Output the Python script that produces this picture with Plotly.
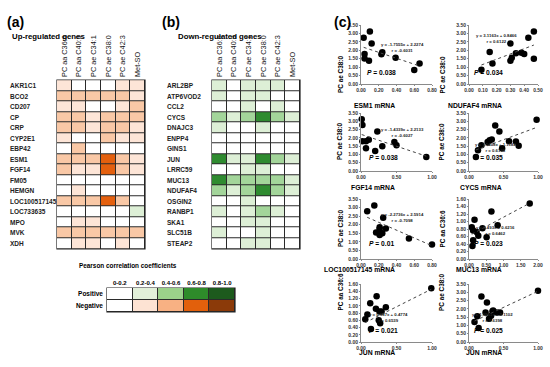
import plotly.graph_objects as go

W, H = 550, 367
FONT = "Liberation Sans, Arial, sans-serif"

# ---------------- data ----------------
lipids = ["PC aa C36:6", "PC aa C40:3", "PC ae C34:1", "PC ae C38:0", "PC ae C42:3", "Met-SO"]

up_genes = ["AKR1C1", "BCO2", "CD207", "CP", "CRP", "CYP2E1", "EBP42", "ESM1", "FGF14",
            "FM05", "HEMGN", "LOC100517145", "LOC733635", "MPO", "MVK", "XDH"]
up_r = [
    [-0.3, 0.0, 0.0, 0.0, -0.3, -0.3],
    [-0.5, -0.5, -0.5, -0.5, -0.5, -0.3],
    [-0.3, -0.3, 0.0, 0.0, -0.3, -0.5],
    [-0.5, -0.5, -0.3, -0.5, -0.5, -0.5],
    [-0.5, -0.5, -0.3, -0.5, -0.5, -0.3],
    [-0.3, 0.0, 0.0, -0.5, -0.3, -0.3],
    [0.0, -0.5, 0.0, 0.0, 0.0, 0.0],
    [-0.5, -0.5, -0.5, -0.7, -0.5, -0.3],
    [-0.5, -0.3, -0.3, -0.7, -0.5, -0.3],
    [0.0, 0.0, 0.0, 0.0, 0.0, 0.0],
    [0.0, -0.3, 0.0, 0.0, 0.0, 0.0],
    [-0.5, -0.5, -0.5, -0.7, -0.5, 0.0],
    [0.0, 0.0, 0.0, 0.0, 0.0, 0.3],
    [0.0, -0.3, -0.3, 0.0, 0.0, 0.0],
    [-0.5, -0.5, -0.5, -0.5, -0.5, -0.5],
    [0.0, -0.3, -0.3, 0.0, -0.3, 0.0],
]

down_genes = ["ARL2BP", "ATP6VOD2", "CCL2", "CYCS", "DNAJC3", "ENPP4", "GINS1", "JUN",
              "LRRC59", "MUC13", "NDUFAF4", "OSGIN2", "RANBP1", "SKA1", "SLC51B", "STEAP2"]
down_r = [
    [0.3, 0.0, 0.3, 0.3, 0.3, 0.0],
    [0.3, 0.0, 0.3, 0.3, 0.0, 0.0],
    [0.0, 0.0, 0.3, 0.0, 0.3, 0.0],
    [0.5, 0.3, 0.5, 0.7, 0.5, 0.3],
    [0.3, 0.0, 0.0, 0.3, 0.0, 0.0],
    [0.0, 0.0, 0.0, 0.0, 0.0, 0.0],
    [0.0, 0.0, 0.0, 0.0, 0.0, 0.0],
    [0.7, 0.3, 0.3, 0.7, 0.5, 0.3],
    [0.0, 0.0, 0.3, 0.3, 0.0, 0.0],
    [0.7, 0.5, 0.5, 0.5, 0.5, 0.3],
    [0.5, 0.3, 0.5, 0.7, 0.5, 0.3],
    [0.0, 0.0, 0.3, 0.0, 0.0, 0.0],
    [0.3, 0.0, 0.3, 0.5, 0.3, 0.0],
    [0.0, 0.0, 0.3, 0.3, 0.0, 0.0],
    [0.3, 0.0, 0.0, 0.3, 0.0, 0.0],
    [0.0, 0.0, 0.3, 0.3, 0.0, 0.0],
]

legend_bins = ["0-0.2", "0.2-0.4", "0.4-0.6", "0.6-0.8", "0.8-1.0"]
legend_rows = ["Positive", "Negative"]
legend_r = [[0.1, 0.3, 0.5, 0.7, 0.9], [-0.1, -0.3, -0.5, -0.7, -0.9]]

# scatter panels
esm1_x = [0.03, 0.10, 0.12, 0.04, 0.04, 0.09, 0.23, 0.24, 0.39, 0.60, 0.66]
esm1_y = [2.75, 3.12, 2.40, 1.78, 1.52, 1.38, 1.77, 1.88, 1.55, 0.83, 1.22]
ndufaf4_x = [0.09, 0.15, 0.17, 0.30, 0.30, 0.31, 0.34, 0.38, 0.40, 0.43, 0.47, 0.47]
ndufaf4_y = [0.85, 1.90, 1.22, 2.40, 1.38, 1.55, 1.82, 1.85, 1.78, 2.75, 1.50, 3.12]
fgf14_x = [0.01, 0.02, 0.02, 0.07, 0.11, 0.07, 0.23, 0.20, 0.30, 0.47, 0.50, 0.92]
fgf14_y = [3.12, 2.78, 1.80, 1.80, 1.88, 1.37, 2.38, 1.20, 1.50, 1.75, 1.55, 0.85]
cycs_x = [0.10, 0.13, 0.18, 0.27, 0.30, 0.33, 0.38, 0.44, 0.48, 0.58, 0.68, 0.72, 0.98]
cycs_y = [0.85, 1.25, 1.55, 1.75, 1.85, 1.90, 2.75, 2.38, 1.37, 1.80, 1.78, 1.52, 3.10]
loc_x = [0.07, 0.15, 0.17, 0.21, 0.21, 0.21, 0.24, 0.25, 0.28, 0.54, 0.80]
loc_y = [2.78, 3.12, 1.55, 1.40, 1.85, 1.75, 1.50, 2.40, 1.78, 1.20, 0.85]
muc13_x = [0.08, 0.12, 0.16, 0.22, 0.27, 0.39, 0.51, 0.65, 0.83, 1.76, 0.10, 0.12]
muc13_y = [0.85, 0.76, 1.05, 0.72, 0.62, 0.82, 0.58, 1.27, 0.90, 1.48, 0.35, 0.50]
jun1_x = [0.06, 0.09, 0.13, 0.14, 0.21, 0.22, 0.25, 0.26, 0.27, 0.29, 0.35, 0.99]
jun1_y = [0.63, 0.76, 1.07, 0.36, 0.92, 1.26, 0.60, 0.84, 0.52, 0.84, 0.96, 1.48]
jun2_x = [0.08, 0.12, 0.14, 0.18, 0.24, 0.26, 0.29, 0.32, 0.34, 0.35, 0.40, 0.45, 1.00]
jun2_y = [1.20, 1.55, 0.85, 2.75, 1.78, 2.38, 1.40, 1.58, 1.85, 1.90, 1.78, 1.78, 3.10]

x_titles = ["ESM1 mRNA", "NDUFAF4 mRNA", "FGF14 mRNA", "CYCS mRNA",
            "LOC100517145 mRNA", "MUC13 mRNA", "JUN mRNA", "JUN mRNA"]
y_titles = ["PC ae C38:0"] * 5 + ["PC aa C36:6", "PC aa C36:6", "PC ae C38:0"]
x_max = [0.8, 0.5, 1.0, 1.0, 0.8, 2.0, 1.0, 1.0]
x_step = [0.2, 0.1, 0.5, 0.5, 0.2, 0.5, 0.5, 0.5]
y_max = [3.5, 3.5, 3.5, 3.5, 3.5, 1.6, 1.6, 3.5]
y_step = [0.5, 0.5, 0.5, 0.5, 0.5, 0.2, 0.2, 0.5]
slopes = [-1.7555, 3.1163, -1.4339, 1.5408, -2.2736, 0.493, 0.987, 1.9561]
intercepts = [2.2274, 0.8466, 2.2133, 1.1184, 2.5914, 0.6216, 0.4774, 1.1102]
r_values = [-0.6031, 0.6122, -0.6027, 0.6108, -0.7098, 0.6462, 0.6539, 0.6398]
p_values = ["0.038", "0.034", "0.038", "0.035", "0.01", "0.023", "0.021", "0.025"]

scatter_x = [esm1_x, ndufaf4_x, fgf14_x, cycs_x, loc_x, muc13_x, jun1_x, jun2_x]
scatter_y = [esm1_y, ndufaf4_y, fgf14_y, cycs_y, loc_y, muc13_y, jun1_y, jun2_y]

# ---------------- styling ----------------
heat_neg = ["#FDE5D7", "#F9C8A6", "#E4600E", "#8B3A0E"]
heat_pos = ["#DDEFD6", "#A3D59A", "#2F8B30", "#1E5A1E"]
leg_neg = ["#FDE3D3", "#F8B183", "#E2600C", "#8B3A09"]
leg_pos = ["#E2F0D9", "#9BD18A", "#2E8B2A", "#1D5A1D"]


def stepped(neg, pos):
    edges = [-1, -0.8, -0.6, -0.4, -0.2, 0.2, 0.4, 0.6, 0.8, 1]
    cols = [neg[3], neg[2], neg[1], neg[0], "#FFFFFF", pos[0], pos[1], pos[2], pos[3]]
    sc = []
    for i, c in enumerate(cols):
        sc.append([(edges[i] + 1) / 2, c])
        sc.append([(edges[i + 1] + 1) / 2, c])
    return sc


def dx(a, b):
    return [a / W, b / W]


def dy(top, bottom):
    return [1 - bottom / H, 1 - top / H]


fig = go.Figure()
layout = dict(width=W, height=H, margin=dict(l=0, r=0, t=0, b=0),
              paper_bgcolor="white", plot_bgcolor="white", showlegend=False,
              font=dict(family=FONT, color="black"))
shapes, annotations = [], []


def axname(n):
    return "" if n == 1 else str(n)


# heatmaps
for n, (genes, vals, x0, x1, labx) in enumerate(
        [(up_genes, up_r, 57, 145, 8), (down_genes, down_r, 212, 300, 165)], start=1):
    a = axname(n)
    fig.add_trace(go.Heatmap(z=vals, x=lipids, y=genes, xaxis="x" + a, yaxis="y" + a,
                             colorscale=stepped(heat_neg, heat_pos), zmin=-1, zmax=1,
                             showscale=False, xgap=1, ygap=1, hoverinfo="skip"))
    layout["xaxis" + a] = dict(domain=dx(x0, x1), anchor="y" + a, side="top", tickangle=-90,
                               tickfont=dict(size=7.3, color="#111"), ticks="", showgrid=False,
                               zeroline=False, automargin=False, ticklabelstandoff=2)
    layout["yaxis" + a] = dict(domain=dy(80, 249), anchor="x" + a, autorange="reversed",
                               showticklabels=False, ticks="", showgrid=False, zeroline=False,
                               automargin=False)
    shapes.append(dict(type="rect", xref="x" + a + " domain", yref="y" + a + " domain",
                       x0=0, x1=1, y0=0, y1=1, fillcolor="#2b2b2b",
                       line=dict(color="#222", width=1.2), layer="below"))
    for g in genes:
        annotations.append(dict(x=labx / W, xref="paper", xanchor="left", y=g, yref="y" + a,
                                text=g, showarrow=False,
                                font=dict(size=6.5, weight="bold", color="#222")))

# legend table
fig.add_trace(go.Heatmap(z=legend_r, x=legend_bins, y=legend_rows, xaxis="x3", yaxis="y3",
                         colorscale=stepped(leg_neg, leg_pos), zmin=-1, zmax=1,
                         showscale=False, xgap=1, ygap=1, hoverinfo="skip"))
layout["xaxis3"] = dict(domain=dx(107, 235), anchor="y3", side="top", ticks="",
                        tickfont=dict(size=6, weight="bold"), showgrid=False, zeroline=False,
                        automargin=False, ticklabelstandoff=1)
layout["yaxis3"] = dict(domain=dy(288, 312), anchor="x3", autorange="reversed", ticks="",
                        tickfont=dict(size=6.5, weight="bold"), showgrid=False, zeroline=False,
                        automargin=False, ticklabelstandoff=3)
shapes.append(dict(type="rect", xref="x3 domain", yref="y3 domain", x0=0, x1=1, y0=0, y1=1,
                   fillcolor="#2b2b2b", line=dict(color="#222", width=1.2), layer="below"))

# scatter panels
cols_x = [(361, 432), (469, 538)]
rows_y = [(25, 84), (113, 171), (199, 259), (284, 342)]
xt_gap = [16, 16, 16, 16]
yt_x = [340, 447]
eq_pos = [(0.58, 0.75), (0.40, 0.90), (0.58, 0.80), (0.71, 0.28),
          (0.59, 0.81), (0.70, 0.48), (0.69, 0.43), (0.67, 0.43)]
p_pos = [(0.06, 0.11), (0.05, 0.11), (0.08, 0.14), (0.04, 0.14),
         (0.08, 0.17), (0.05, 0.17), (0.08, 0.11), (0.05, 0.11)]

for i in range(8):
    n = i + 4
    a = str(n)
    r, c = divmod(i, 2)
    xs, ys = scatter_x[i], scatter_y[i]
    fig.add_trace(go.Scatter(x=xs, y=ys, mode="markers", xaxis="x" + a, yaxis="y" + a,
                             marker=dict(size=6.5, color="black"), hoverinfo="skip",
                             cliponaxis=False))
    lo, hi = min(xs), max(xs)
    fig.add_trace(go.Scatter(x=[lo, hi],
                             y=[slopes[i] * lo + intercepts[i], slopes[i] * hi + intercepts[i]],
                             mode="lines", xaxis="x" + a, yaxis="y" + a,
                             line=dict(color="#444", width=1, dash="dot"), hoverinfo="skip"))
    tf = dict(size=5, weight="bold", color="#333")
    layout["xaxis" + a] = dict(domain=dx(*cols_x[c]), anchor="y" + a, range=[0, x_max[i]],
                               dtick=x_step[i], tick0=0, tickformat=".2f",
                               showline=True, linecolor="#8a8a8a", linewidth=1,
                               ticks="outside", ticklen=1, tickcolor="#8a8a8a", tickfont=tf,
                               showgrid=False, zeroline=False, automargin=False)
    layout["yaxis" + a] = dict(domain=dy(*rows_y[r]), anchor="x" + a, range=[0, y_max[i]],
                               dtick=y_step[i], tick0=0, tickformat=".2f",
                               showline=True, linecolor="#8a8a8a", linewidth=1,
                               ticks="outside", ticklen=1, tickcolor="#8a8a8a", tickfont=tf,
                               showgrid=False, zeroline=False, automargin=False)
    # axis titles
    annotations.append(dict(x=sum(cols_x[c]) / 2 / W, y=1 - (rows_y[r][1] + xt_gap[r]) / H,
                            xref="paper", yref="paper", text=x_titles[i], showarrow=False,
                            font=dict(size=6.8, weight="bold")))
    annotations.append(dict(x=yt_x[c] / W, y=1 - sum(rows_y[r]) / 2 / H, xref="paper",
                            yref="paper", text=y_titles[i], textangle=-90, showarrow=False,
                            font=dict(size=6.4, weight="bold")))
    eq = f"y = {slopes[i]:g}x + {intercepts[i]:g}<br>r = {r_values[i]:g}"
    annotations.append(dict(x=eq_pos[i][0], y=eq_pos[i][1], xref="x" + a + " domain",
                            yref="y" + a + " domain", text=eq, showarrow=False,
                            font=dict(size=4.3, weight="bold", color="#222")))
    annotations.append(dict(x=p_pos[i][0], y=p_pos[i][1], xref="x" + a + " domain",
                            yref="y" + a + " domain", xanchor="left",
                            text=f"<i>P</i> = {p_values[i]}", showarrow=False,
                            font=dict(size=6.7, weight="bold")))

# panel labels and titles
for txt, px, py, sz in [("(a)", 5, 12, 14), ("(b)", 160, 12, 14), ("(c)", 332, 12, 14)]:
    annotations.append(dict(x=px / W, y=1 - py / H, xref="paper", yref="paper", xanchor="left",
                            text=txt, showarrow=False, font=dict(size=sz, weight="bold")))
annotations.append(dict(x=10 / W, y=1 - 30 / H, xref="paper", yref="paper", xanchor="left",
                        text="Up-regulated genes", showarrow=False,
                        font=dict(size=7.8, weight="bold")))
annotations.append(dict(x=220 / W, y=1 - 30 / H, xref="paper", yref="paper", xanchor="center",
                        text="Down-regulated genes", showarrow=False,
                        font=dict(size=7.8, weight="bold")))
annotations.append(dict(x=77 / W, y=1 - 271 / H, xref="paper", yref="paper", xanchor="left",
                        text="Pearson correlation coefficients", showarrow=False,
                        font=dict(size=6.4, weight="bold")))

layout["shapes"] = shapes
layout["annotations"] = annotations
fig.update_layout(**layout)
fig.write_html("out.html", config={"displayModeBar": False, "staticPlot": True},
               post_script="document.body.style.margin='0';document.body.style.overflow='hidden';")
